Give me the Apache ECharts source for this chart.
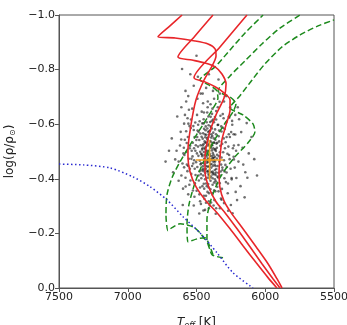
<!DOCTYPE html>
<html>
<head>
<meta charset="utf-8">
<script src="https://cdn.jsdelivr.net/npm/echarts@6/dist/echarts.min.js"></script>
<style>
  html, body { margin: 0; padding: 0; background: #fff; }
  #chart { width: 347px; height: 325px; }
</style>
</head>
<body>
<div id="chart"></div>
<script>
// tick labels
var xTicks = [7500, 7000, 6500, 6000, 5500];
var yTicks = [-1.0, -0.8, -0.6, -0.4, -0.2, 0.0];

// red tracks (Teff, log rho)
var redTrack1 = [[6605,-1.0],[6693,-0.960],[6780,-0.920],[6656,-0.916],[6511,-0.905],[6416,-0.894],[6365,-0.876],[6358,-0.850],[6387,-0.813],[6445,-0.762],[6504,-0.689],[6540,-0.598],[6562,-0.506],[6562,-0.480],[6547,-0.426],[6504,-0.371],[6431,-0.319],[6351,-0.276],[6256,-0.217],[6162,-0.155],[6067,-0.093],[5980,-0.038],[5915,0.0]];
var redTrack2 = [[6380,-1.0],[6511,-0.923],[6635,-0.846],[6533,-0.835],[6438,-0.824],[6365,-0.810],[6315,-0.784],[6285,-0.748],[6300,-0.696],[6358,-0.634],[6409,-0.561],[6438,-0.480],[6438,-0.426],[6409,-0.367],[6358,-0.316],[6293,-0.276],[6205,-0.217],[6111,-0.151],[6024,-0.089],[5944,-0.034],[5893,0.0]];
var redTrack3 = [[6133,-1.0],[6329,-0.883],[6518,-0.770],[6438,-0.755],[6365,-0.737],[6300,-0.715],[6256,-0.689],[6256,-0.652],[6285,-0.598],[6315,-0.543],[6329,-0.480],[6336,-0.426],[6329,-0.367],[6300,-0.319],[6249,-0.276],[6162,-0.217],[6067,-0.151],[5980,-0.089],[5915,-0.034],[5878,0.0]];

// green dashed tracks
var greenTrack1 = [[6438,-0.177],[6475,-0.202],[6525,-0.224],[6620,-0.235],[6678,-0.221],[6707,-0.210],[6722,-0.268],[6715,-0.341],[6678,-0.404],[6620,-0.462],[6547,-0.524],[6453,-0.598],[6387,-0.652],[6344,-0.696],[6358,-0.726],[6438,-0.751],[6475,-0.762],[6365,-0.810],[6256,-0.872],[6147,-0.934],[6016,-1.0]];
var greenTrack2 = [[6380,-0.122],[6402,-0.151],[6438,-0.184],[6496,-0.180],[6562,-0.169],[6569,-0.232],[6555,-0.305],[6511,-0.385],[6453,-0.458],[6380,-0.532],[6300,-0.598],[6235,-0.645],[6213,-0.674],[6256,-0.700],[6344,-0.722],[6256,-0.777],[6147,-0.832],[6024,-0.894],[5893,-0.952],[5747,-1.0]];
var greenTrack3 = [[6307,-0.111],[6351,-0.115],[6387,-0.122],[6402,-0.140],[6424,-0.177],[6424,-0.250],[6395,-0.323],[6329,-0.404],[6227,-0.477],[6125,-0.532],[6075,-0.572],[6089,-0.601],[6162,-0.634],[6256,-0.660],[6184,-0.704],[6096,-0.762],[6002,-0.821],[5878,-0.883],[5747,-0.927],[5616,-0.960],[5500,-0.982]];

// blue dotted line
var blueLine = [[7500,-0.454],[7325,-0.451],[7129,-0.440],[6962,-0.407],[6838,-0.371],[6715,-0.323],[6598,-0.261],[6475,-0.202],[6351,-0.129],[6235,-0.056],[6089,0.0]];

// observed star
var obsTeff = 6405, obsTeffErr = 100;
var obsRho = -0.469, obsRhoErr = 0.073;

// posterior samples
var samples = [
[6412,-0.471],[6385,-0.523],[6440,-0.434],[6368,-0.452],[6455,-0.547],[6398,-0.393],[6421,-0.584],[6350,-0.488],[6476,-0.466],[6392,-0.441],
[6430,-0.502],[6361,-0.414],[6405,-0.536],[6447,-0.382],[6378,-0.569],[6489,-0.518],[6334,-0.463],[6417,-0.427],[6458,-0.603],[6371,-0.358],
[6402,-0.484],[6436,-0.552],[6355,-0.529],[6468,-0.417],[6389,-0.612],[6425,-0.373],[6343,-0.405],[6497,-0.493],[6381,-0.476],[6414,-0.628],
[6450,-0.458],[6365,-0.581],[6409,-0.347],[6441,-0.514],[6327,-0.521],[6472,-0.566],[6395,-0.424],[6428,-0.447],[6356,-0.436],[6483,-0.394],
[6419,-0.543],[6346,-0.597],[6461,-0.489],[6387,-0.504],[6438,-0.398],[6372,-0.386],[6405,-0.574],[6494,-0.443],[6339,-0.556],[6426,-0.607],
[6377,-0.462],[6453,-0.437],[6410,-0.412],[6362,-0.508],[6445,-0.583],[6393,-0.551],[6318,-0.478],[6480,-0.542],[6431,-0.338],[6366,-0.626],
[6400,-0.452],[6459,-0.507],[6382,-0.416],[6423,-0.494],[6349,-0.371],[6470,-0.453],[6396,-0.592],[6437,-0.468],[6311,-0.432],[6415,-0.381],
[6358,-0.563],[6488,-0.598],[6407,-0.503],[6444,-0.364],[6374,-0.533],[6429,-0.561],[6336,-0.577],[6465,-0.402],[6390,-0.483],[6418,-0.444],
[6352,-0.474],[6448,-0.618],[6383,-0.378],[6412,-0.596],[6473,-0.499],[6341,-0.422],[6435,-0.532],[6399,-0.362],[6366,-0.481],[6457,-0.373],
[6424,-0.459],[6379,-0.617],[6503,-0.461],[6330,-0.497],[6442,-0.487],[6404,-0.433],[6360,-0.391],[6485,-0.572],[6416,-0.522],[6388,-0.584],
[6290,-0.451],[6535,-0.503],[6302,-0.548],[6548,-0.437],[6275,-0.492],[6520,-0.579],[6315,-0.363],[6512,-0.384],[6284,-0.607],[6540,-0.617],
[6297,-0.402],[6527,-0.532],[6268,-0.518],[6556,-0.473],[6309,-0.637],[6515,-0.334],[6322,-0.328],[6531,-0.657],[6281,-0.423],[6507,-0.414],
[6345,-0.662],[6462,-0.646],[6398,-0.673],[6431,-0.312],[6370,-0.322],[6479,-0.343],[6326,-0.631],[6496,-0.634],[6411,-0.318],[6384,-0.657],
[6259,-0.472],[6563,-0.553],[6295,-0.582],[6544,-0.394],[6271,-0.383],[6524,-0.456],[6306,-0.497],[6551,-0.593],[6288,-0.534],[6518,-0.512],
[6340,-0.354],[6468,-0.308],[6357,-0.648],[6452,-0.677],[6419,-0.662],[6376,-0.302],[6443,-0.327],[6394,-0.313],[6331,-0.384],[6499,-0.356],
[6320,-0.592],[6509,-0.606],[6312,-0.441],[6538,-0.418],[6265,-0.563],[6529,-0.482],[6300,-0.468],[6514,-0.553],[6279,-0.443],[6546,-0.521],
[6620,-0.522],[6655,-0.471],[6700,-0.503],[6590,-0.602],[6610,-0.412],[6680,-0.548],[6725,-0.463],[6575,-0.683],[6640,-0.628],[6598,-0.364],
[6230,-0.481],[6195,-0.524],[6160,-0.452],[6210,-0.403],[6240,-0.598],[6175,-0.571],[6120,-0.493],[6080,-0.472],[6215,-0.352],[6145,-0.424],
[6250,-0.304],[6205,-0.322],[6270,-0.283],[6330,-0.292],[6180,-0.373],[6238,-0.274],[6300,-0.311],[6360,-0.272],[6222,-0.441],[6190,-0.618],
[6580,-0.722],[6520,-0.741],[6470,-0.712],[6545,-0.783],[6605,-0.802],[6490,-0.774],[6430,-0.733],[6500,-0.851],[6560,-0.703],[6380,-0.722],
[6450,-0.284],[6520,-0.302],[6560,-0.343],[6600,-0.304],[6480,-0.273],[6410,-0.292],[6630,-0.393],[6670,-0.424],[6570,-0.452],[6585,-0.543],
[6255,-0.662],[6285,-0.703],[6330,-0.712],[6230,-0.563],[6262,-0.624],[6200,-0.662],[6340,-0.764],[6410,-0.783],[6300,-0.683],[6165,-0.514],
[6060,-0.412],[6100,-0.553],[6135,-0.604],[6150,-0.332],[6245,-0.403],[6228,-0.522],[6218,-0.634],[6195,-0.463],[6248,-0.571],[6130,-0.404],
[6595,-0.493],[6615,-0.572],[6645,-0.503],[6565,-0.622],[6580,-0.404],[6630,-0.463],[6590,-0.442],[6575,-0.574],[6555,-0.653],[6610,-0.662],
[6403,-0.463],[6427,-0.482],[6381,-0.494],[6449,-0.527],[6396,-0.513],[6413,-0.553],[6367,-0.432],[6436,-0.421],[6422,-0.404],[6374,-0.548],
[6391,-0.454],[6458,-0.483],[6408,-0.446],[6359,-0.502],[6440,-0.452],[6384,-0.427],[6419,-0.503],[6451,-0.412],[6370,-0.468],[6431,-0.517],
[6399,-0.538],[6463,-0.554],[6387,-0.532],[6415,-0.462],[6346,-0.447],[6434,-0.578],[6378,-0.512],[6406,-0.403],[6454,-0.446],[6363,-0.543],
[6421,-0.428],[6393,-0.472],[6447,-0.498],[6369,-0.418],[6411,-0.487],[6439,-0.562],[6385,-0.557],[6427,-0.533],[6352,-0.514],[6466,-0.457],
[6400,-0.517],[6417,-0.474],[6380,-0.448],[6444,-0.473],[6395,-0.408],[6432,-0.437],[6358,-0.423],[6409,-0.562],[6455,-0.522],[6376,-0.487],
[6390,-0.523],[6423,-0.548],[6413,-0.418],[6365,-0.463],[6448,-0.428],[6401,-0.577],[6437,-0.508],[6383,-0.402],[6416,-0.572],[6470,-0.523],
[6235,-0.512],[6588,-0.487],[6252,-0.437],[6571,-0.531],[6218,-0.562],[6602,-0.456],[6244,-0.398],[6559,-0.602],[6266,-0.627],[6579,-0.372],
[6228,-0.471],[6592,-0.514],[6257,-0.553],[6566,-0.428],[6212,-0.503],[6611,-0.544],[6241,-0.612],[6552,-0.378],[6273,-0.347],[6584,-0.634],
[6293,-0.512],[6532,-0.447],[6318,-0.573],[6505,-0.523],[6286,-0.388],[6541,-0.586],[6324,-0.427],[6517,-0.468],[6303,-0.622],[6526,-0.357],
[6337,-0.483],[6492,-0.577],[6349,-0.532],[6478,-0.428],[6329,-0.412],[6486,-0.484],[6313,-0.528],[6501,-0.542],[6342,-0.598],[6474,-0.368],
[6362,-0.447],[6466,-0.492],[6373,-0.607],[6452,-0.567],[6354,-0.382],[6461,-0.431],[6386,-0.348],[6446,-0.643],[6368,-0.507],[6433,-0.592],
[6397,-0.627],[6420,-0.352],[6380,-0.422],[6441,-0.537],[6404,-0.491],[6426,-0.467],[6392,-0.563],[6410,-0.527],[6375,-0.477],[6456,-0.512],
[6263,-0.487],[6281,-0.553],[6296,-0.427],[6308,-0.587],[6321,-0.452],[6335,-0.537],[6347,-0.408],[6357,-0.617],[6371,-0.532],[6389,-0.468],
[6513,-0.437],[6523,-0.593],[6537,-0.473],[6549,-0.512],[6561,-0.447],[6574,-0.498],[6486,-0.412],[6495,-0.553],[6508,-0.503],[6477,-0.611],
[6418,-0.683],[6372,-0.693],[6455,-0.712],[6332,-0.682],[6493,-0.693],[6403,-0.302],[6357,-0.292],[6438,-0.286],[6318,-0.323],[6474,-0.318],
[6422,-0.643],[6387,-0.638],[6446,-0.338],[6363,-0.354],[6412,-0.368],[6401,-0.608],[6430,-0.383],[6394,-0.588],[6366,-0.398],[6448,-0.603]
];

var font = 'DejaVu Sans';
var chart = echarts.init(document.getElementById('chart'));

function trackSeries(data, color, type, width) {
  return {
    type: 'line',
    data: data,
    showSymbol: false,
    smooth: 0.25,
    silent: true,
    lineStyle: { color: color, width: width, type: type }
  };
}

var option = {
  animation: false,
  grid: {
    left: 59, right: 13, top: 15, bottom: 37,
    outerBoundsMode: 'none',
    show: true, borderColor: '#555', borderWidth: 1
  },
  xAxis: {
    type: 'value',
    inverse: true,
    min: Math.min.apply(null, xTicks),
    max: Math.max.apply(null, xTicks),
    interval: 500,
    name: '{t|T}{s|eff}{n| [K]}',
    nameLocation: 'middle',
    nameGap: 27,
    nameTextStyle: {
      rich: {
        t: { fontFamily: font, fontSize: 12, fontStyle: 'italic', color: '#222' },
        s: { fontFamily: font, fontSize: 8, fontStyle: 'italic', color: '#222', padding: [7, 0, 0, 0] },
        n: { fontFamily: font, fontSize: 12, color: '#222' }
      }
    },
    axisLine: { show: true, lineStyle: { color: '#555' } },
    axisTick: { show: true, length: 4, lineStyle: { color: '#555' } },
    axisLabel: {
      fontFamily: font, fontSize: 11, color: '#222', margin: 4,
      formatter: function (v) { return String(v); }
    },
    splitLine: { show: false }
  },
  yAxis: {
    type: 'value',
    inverse: true,
    min: Math.min.apply(null, yTicks),
    max: Math.max.apply(null, yTicks),
    interval: 0.2,
    name: 'log(ρ/ρ{s|⊙})',
    nameLocation: 'middle',
    nameGap: 42,
    nameRotate: 90,
    nameTextStyle: {
      fontFamily: font, fontSize: 12, color: '#222',
      rich: {
        s: { fontFamily: font, fontSize: 8, color: '#222', padding: [6, 0, 0, 0] }
      }
    },
    axisLine: { show: true, lineStyle: { color: '#555' } },
    axisTick: { show: true, length: 4, lineStyle: { color: '#555' } },
    axisLabel: {
      fontFamily: font, fontSize: 11, color: '#222', margin: 4,
      formatter: function (v) { return v.toFixed(1).replace('-', '\u2212'); }
    },
    splitLine: { show: false }
  },
  series: [
    {
      type: 'scatter',
      data: samples,
      symbolSize: 2.6,
      silent: true,
      itemStyle: { color: 'rgba(0,0,0,0.7)' }
    },
    trackSeries(greenTrack1, '#1d8a1d', [6, 3], 1.5),
    trackSeries(greenTrack2, '#1d8a1d', [6, 3], 1.5),
    trackSeries(greenTrack3, '#1d8a1d', [6, 3], 1.5),
    trackSeries(redTrack1, '#e8262a', 'solid', 1.6),
    trackSeries(redTrack2, '#e8262a', 'solid', 1.6),
    trackSeries(redTrack3, '#e8262a', 'solid', 1.6),
    trackSeries(blueLine, '#2a2ad0', [1.5, 2.5], 1.5),
    {
      type: 'line',
      data: [[obsTeff - obsTeffErr, obsRho], [obsTeff + obsTeffErr, obsRho]],
      showSymbol: false,
      silent: true,
      lineStyle: { color: '#f5a020', width: 1.5 }
    },
    {
      type: 'line',
      data: [[obsTeff, obsRho - obsRhoErr], [obsTeff, obsRho + obsRhoErr]],
      showSymbol: false,
      silent: true,
      lineStyle: { color: '#f5a020', width: 1.5 }
    },
    {
      type: 'scatter',
      data: [[obsTeff, obsRho]],
      symbolSize: 4,
      silent: true,
      itemStyle: { color: '#f5a020' }
    }
  ]
};

option && chart.setOption(option);
window.addEventListener('resize', function () {
  chart.resize();
});
</script>
</body>
</html>
